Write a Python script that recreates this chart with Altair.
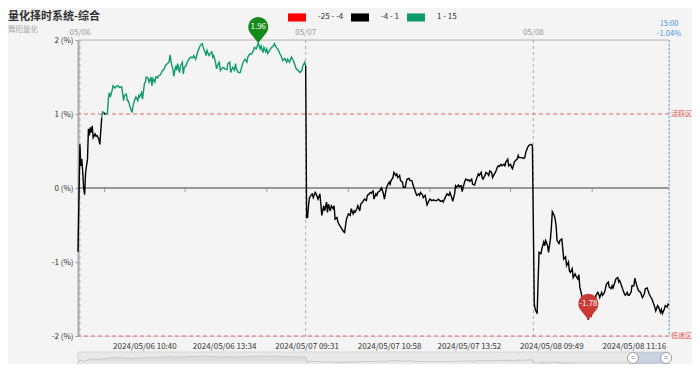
import altair as alt
import pandas as pd
import numpy as np

# ---------------- data (trading-minute index from 05/06 09:30, value in %) ----------------
minute = [
    0, 2, 3, 4, 5, 6, 7, 8, 10, 11, 12, 13, 14, 15, 16, 18, 19, 20, 22, 23, 25, 26, 27, 29, 31, 32, 33, 34, 36, 37,
    39, 40, 42, 44, 46, 47, 48, 49, 51, 52, 53, 55, 57, 58, 60, 61, 63, 64, 65, 67, 68, 70, 71, 72, 74, 75, 77, 78, 79, 81,
    82, 84, 85, 87, 89, 91, 92, 94, 96, 97, 98, 99, 100, 101, 103, 104, 105, 107, 108, 110, 111, 112, 114, 115, 117, 119, 121, 122, 124, 126,
    128, 129, 131, 132, 134, 135, 136, 138, 139, 141, 142, 143, 145, 146, 148, 149, 150, 153, 155, 157, 158, 160, 161, 163, 165, 166, 167, 169, 171, 172,
    174, 176, 178, 179, 181, 183, 185, 186, 188, 190, 192, 193, 195, 196, 198, 199, 200, 202, 204, 206, 207, 209, 211, 213, 214, 216, 218, 220, 221, 223,
    225, 227, 229, 230, 232, 234, 236, 237, 239, 240,
    241, 242, 243, 244, 246, 247, 248, 250, 251, 253, 255, 256, 257, 259, 260, 262, 263, 264, 266, 267, 269, 270, 271, 273, 274, 276, 278, 280, 281, 282,
    283, 285, 287, 288, 290, 291, 292, 294, 295, 297, 298, 300, 301, 302, 304, 305, 307, 308, 309, 311, 312, 314, 315, 316, 318, 320, 322, 323, 325, 326,
    328, 329, 330, 332, 333, 335, 336, 337, 339, 340, 342, 343, 345, 346, 347, 349, 350, 352, 353, 354, 356, 357, 359, 360, 361, 363, 364, 366, 367, 368,
    370, 371, 373, 375, 376, 378, 380, 382, 384, 385, 387, 389, 391, 392, 394, 395, 397, 398, 399, 401, 402, 404, 405, 406, 408, 409, 411, 412, 413, 415,
    416, 418, 419, 420, 422, 423, 425, 426, 427, 429, 430, 432, 433, 434, 436, 437, 439, 440, 442, 443, 444, 446, 447, 449, 450, 451, 453, 454, 456, 457,
    458, 460, 461, 463, 464, 465, 467, 468, 470, 471, 472, 474, 475, 477, 478, 479,
    481, 482, 484, 485, 486, 488, 489, 491, 492, 493, 495, 496, 498, 499, 500, 502, 503, 504, 505, 507, 508, 510, 511, 512, 514, 515, 517, 518, 519, 521,
    522, 524, 525, 527, 528, 529, 531, 532, 534, 535, 536, 538, 539, 541, 542, 543, 545, 546, 548, 549, 550, 552, 553, 555, 556, 557, 559, 560, 562, 563,
    564, 566, 567, 569, 570, 571, 573, 574, 576, 577, 579, 580, 581, 583, 584, 586, 587, 588, 590, 591, 593, 594, 595, 597, 598, 600, 601, 602, 604, 605,
    607, 608, 609, 611, 612, 614, 615, 616, 618, 619, 621, 622, 623,
]
pct = [
    -0.86, 0.59, 0.30, 0.39, 0.21, -0.01, -0.09, 0.21, 0.39, 0.80, 0.71, 0.82, 0.75, 0.84, 0.68, 0.73, 0.70, 0.71, 0.66, 0.59, 0.95, 1.03, 1.02, 0.99, 1.02, 1.20, 1.29, 1.23, 1.32, 1.38,
    1.35, 1.37, 1.38, 1.36, 1.37, 1.29, 1.18, 1.25, 1.27, 1.18, 1.18, 1.09, 1.02, 1.11, 1.20, 1.23, 1.18, 1.25, 1.23, 1.29, 1.20, 1.41, 1.43, 1.50, 1.48, 1.43, 1.50, 1.38, 1.48, 1.43,
    1.50, 1.49, 1.52, 1.53, 1.59, 1.61, 1.65, 1.68, 1.70, 1.80, 1.72, 1.65, 1.61, 1.51, 1.65, 1.59, 1.68, 1.56, 1.65, 1.70, 1.54, 1.63, 1.65, 1.70, 1.74, 1.77, 1.76, 1.79, 1.74, 1.83,
    1.90, 1.93, 1.95, 1.90, 1.83, 1.79, 1.86, 1.79, 1.81, 1.84, 1.77, 1.79, 1.70, 1.61, 1.68, 1.70, 1.59, 1.63, 1.61, 1.60, 1.68, 1.70, 1.56, 1.63, 1.59, 1.68, 1.61, 1.56, 1.56, 1.61,
    1.70, 1.74, 1.70, 1.77, 1.81, 1.81, 1.86, 1.90, 1.88, 1.96, 1.88, 1.92, 1.83, 1.90, 1.84, 1.88, 1.82, 1.86, 1.90, 1.92, 1.95, 1.90, 1.87, 1.81, 1.79, 1.72, 1.75, 1.70, 1.74, 1.70,
    1.77, 1.72, 1.65, 1.61, 1.59, 1.56, 1.59, 1.65, 1.70, 1.65,
    -0.40, -0.40, -0.24, -0.13, -0.09, -0.08, -0.13, -0.06, -0.08, -0.15, -0.08, -0.22, -0.37, -0.24, -0.31, -0.19, -0.33, -0.22, -0.31, -0.24, -0.28, -0.24, -0.42, -0.40, -0.46, -0.51, -0.55, -0.59, -0.60, -0.51,
    -0.42, -0.35, -0.37, -0.28, -0.35, -0.31, -0.33, -0.28, -0.24, -0.31, -0.22, -0.19, -0.17, -0.15, -0.17, -0.10, -0.08, -0.06, -0.07, -0.04, -0.15, -0.08, -0.10, -0.06, -0.04, 0.00, -0.08, -0.15, -0.01, 0.03,
    0.08, 0.05, 0.10, 0.14, 0.21, 0.17, 0.19, 0.14, 0.17, 0.10, 0.08, 0.01, 0.01, 0.08, 0.12, 0.13, 0.10, 0.10, 0.05, 0.01, -0.06, -0.10, -0.08, -0.10, -0.06, -0.09, -0.13, -0.10, -0.17, -0.23,
    -0.17, -0.15, -0.17, -0.16, -0.17, -0.17, -0.15, -0.18, -0.17, -0.19, -0.13, -0.08, -0.10, -0.06, -0.13, -0.18, -0.08, 0.03, 0.01, 0.04, 0.02, 0.03, -0.05, 0.01, 0.10, 0.12, 0.10, 0.11, 0.09, 0.12,
    0.05, 0.04, 0.08, 0.12, 0.19, 0.17, 0.21, 0.14, 0.12, 0.17, 0.21, 0.19, 0.17, 0.23, 0.21, 0.14, 0.19, 0.21, 0.28, 0.30, 0.29, 0.32, 0.30, 0.32, 0.30, 0.35, 0.39, 0.30, 0.32, 0.28,
    0.26, 0.35, 0.37, 0.39, 0.44, 0.41, 0.41, 0.41, 0.40, 0.41, 0.48, 0.55, 0.57, 0.59, 0.59, 0.57,
    -1.57, -1.64, -1.70, -1.27, -0.87, -0.89, -0.82, -0.73, -0.78, -0.71, -0.78, -0.87, -0.69, -0.53, -0.32, -0.37, -0.42, -0.51, -0.71, -0.75, -0.71, -0.69, -0.82, -0.96, -0.93, -1.05, -1.00, -1.12, -1.14, -1.09,
    -1.21, -1.16, -1.19, -1.23, -1.17, -1.34, -1.45, -1.54, -1.59, -1.61, -1.68, -1.78, -1.70, -1.73, -1.68, -1.61, -1.55, -1.45, -1.41, -1.44, -1.48, -1.41, -1.45, -1.41, -1.36, -1.30, -1.27, -1.34, -1.36, -1.32,
    -1.35, -1.27, -1.23, -1.21, -1.27, -1.25, -1.32, -1.36, -1.43, -1.45, -1.41, -1.45, -1.45, -1.41, -1.32, -1.32, -1.22, -1.27, -1.36, -1.39, -1.41, -1.45, -1.48, -1.43, -1.36, -1.35, -1.39, -1.43, -1.48, -1.50,
    -1.57, -1.61, -1.66, -1.59, -1.61, -1.68, -1.64, -1.70, -1.64, -1.59, -1.61, -1.57, -1.58,
]

x_label_pos = [70, 154, 241, 328, 412, 499, 586]
x_label_text = ["2024/05/06 10:40", "2024/05/06 13:34", "2024/05/07 09:31", "2024/05/07 10:58",
                "2024/05/07 13:52", "2024/05/08 09:49", "2024/05/08 11:16"]
x_tick_pos = [28, 113, 199, 285, 371, 456, 542]
day_pos = [2, 240, 480]
day_text = ["05/06", "05/07", "05/08"]
y_ticks = [-2, -1, 0, 1, 2]
band_values = [1, -2]
band_text = ["活跃区", "低迷区"]
zone_labels = ["-25 - -4", "-4 - 1", "1 - 15"]
zone_edges = [-25, -4, 1, 15]
zone_colors = ["#ff0000", "#000000", "#0c9a6b"]
last_time = "15:00"
last_pct = "-1.04%"
window_range = [583, 623]
handle_pos = [585, 620]
TITLE = "量化择时系统-综合"
SUBTITLE = "舞阳量化"

# ---------------- layout constants ----------------
W, H = 591, 296
X_MAX = max(minute)
FONT = "Noto Sans CJK SC"

df = pd.DataFrame({"t": minute, "v": pct})

# split the line into coloured runs (visual-map style); each run also takes the
# last point of the previous run so that the line stays connected
zone_idx = np.digitize(df["v"].to_numpy(), zone_edges[1:-1], right=False)
run_id = np.concatenate([[0], np.cumsum(zone_idx[1:] != zone_idx[:-1])])
rows = []
for i in range(len(df)):
    rows.append((df.t[i], df.v[i], run_id[i], zone_colors[zone_idx[i]]))
    if i > 0 and run_id[i] != run_id[i - 1]:
        rows.append((df.t[i - 1], df.v[i - 1], run_id[i], zone_colors[zone_idx[i]]))
seg = pd.DataFrame(rows, columns=["t", "v", "run", "col"]).sort_values(["run", "t"])

imax, imin = int(np.argmax(pct)), int(np.argmin(pct))
pins = pd.DataFrame({
    "t": [minute[imax], minute[imin]],
    "v": [pct[imax], pct[imin]],
    "label": [f"{pct[imax]:.2f}", f"{pct[imin]:.2f}"],
    "fill": ["#15891a", "#cc3a36"],
})
one = pd.DataFrame({"a": [0]})

xs = alt.Scale(domain=[0, X_MAX], nice=False, zero=False)
ys = alt.Scale(domain=[min(y_ticks), max(y_ticks)], nice=False, zero=False)

lbl_expr = "[" + ",".join(f"'{s}'" for s in x_label_text) + "][indexof([" + \
    ",".join(str(p) for p in x_label_pos) + "], datum.value)]"
xaxis = alt.Axis(values=x_label_pos, labelExpr=lbl_expr, domain=False, ticks=False, grid=False,
                 labelFontSize=8, labelColor="#333333", labelPadding=6, title=None,
                 labelFlush=False, labelOverlap=False)
yaxis = alt.Axis(values=y_ticks, labelExpr="datum.value + ' (%)'", domainColor="#aaaaaa", domainWidth=2,
                 tickColor="#999999", tickSize=3, labelFontSize=8, labelColor="#333333", labelPadding=2,
                 gridColor="#dddddd", gridWidth=1, title=None)

X = alt.X("t:Q", scale=xs, axis=xaxis, title=None)
Y = alt.Y("v:Q", scale=ys, axis=yaxis, title=None)

# ---------------- main layers ----------------
top_rule = alt.Chart(pd.DataFrame({"v": [max(y_ticks)]})).mark_rule(color="#cccccc", strokeWidth=1.5).encode(y=Y)
zero_rule = alt.Chart(pd.DataFrame({"v": [0]})).mark_rule(color="#7a7a7a", strokeWidth=1.5).encode(y=Y)

band_df = pd.DataFrame({"v": band_values, "label": band_text})
band_rule = alt.Chart(band_df).mark_rule(color="#e5605c", strokeDash=[4, 3], strokeWidth=1).encode(y=Y)
band_txt = alt.Chart(band_df).mark_text(align="left", baseline="middle", dx=2, fontSize=7,
                                        color="#e0504c").encode(x=alt.value(W), y=Y, text="label:N")

day_df = pd.DataFrame({"t": day_pos, "label": day_text})
day_rule = alt.Chart(day_df).mark_rule(color="#aaaaaa", strokeDash=[3, 3], strokeWidth=1).encode(x=X)
day_txt = alt.Chart(day_df).mark_text(baseline="middle", fontSize=8, color="#999999").encode(
    x=X, y=alt.value(-7), text="label:N")

end_df = pd.DataFrame({"t": [X_MAX], "l1": [last_time], "l2": [last_pct]})
end_rule = alt.Chart(end_df).mark_rule(color="#5aa6ea", strokeDash=[2, 2], strokeWidth=1).encode(x=X)
end_t1 = alt.Chart(end_df).mark_text(baseline="middle", fontSize=7.5, color="#3c95e2").encode(
    x=X, y=alt.value(-16), text="l1:N")
end_t2 = alt.Chart(end_df).mark_text(baseline="middle", fontSize=7.5, color="#3c95e2").encode(
    x=X, y=alt.value(-6), text="l2:N")

tick_df = pd.DataFrame({"t": x_tick_pos, "v": [0] * len(x_tick_pos)})
ticks = alt.Chart(tick_df).mark_tick(orient="vertical", size=4, thickness=1, color="#7a7a7a",
                                     yOffset=2).encode(x=X, y=Y)

line = alt.Chart(seg).mark_line(strokeWidth=1.4).encode(
    x=X, y=Y, detail="run:N", stroke=alt.Stroke("col:N", scale=None), order="t:Q")

PIN = "M0,0 L-0.781,-0.975 A1,1 0 1 1 0.781,-0.975 Z"
pin_mark = alt.Chart(pins).mark_point(shape=PIN, size=400, filled=True, opacity=1, strokeWidth=0).encode(
    x=X, y=Y, fill=alt.Fill("fill:N", scale=None))
pin_txt = alt.Chart(pins).mark_text(dy=-16, color="white", fontSize=8, baseline="middle").encode(
    x=X, y=Y, text="label:N")

title_txt = alt.Chart(one).mark_text(align="left", baseline="top", fontSize=11, fontWeight="bold",
                                     color="#333333").encode(x=alt.value(-70), y=alt.value(-29),
                                                             text=alt.value(TITLE))
sub_txt = alt.Chart(one).mark_text(align="left", baseline="top", fontSize=7.5, color="#aaaaaa").encode(
    x=alt.value(-70), y=alt.value(-14.5), text=alt.value(SUBTITLE))

RECT = "M-1,-0.45 L1,-0.45 L1,0.45 L-1,0.45 Z"
legend_layer = alt.Chart(pd.DataFrame({"zone": zone_labels})).mark_square(size=10, opacity=1).encode(
    x=alt.value(-3000), y=alt.value(-3000),
    color=alt.Color("zone:N", scale=alt.Scale(domain=zone_labels, range=zone_colors),
                    legend=alt.Legend(title=None, orient="none", legendX=210, legendY=-32,
                                      direction="horizontal", symbolType=RECT, symbolSize=324,
                                      symbolStrokeWidth=0, labelFontSize=8, labelColor="#333333",
                                      labelOffset=12, columnPadding=7, padding=0)))

main = alt.layer(top_rule, band_rule, day_rule, end_rule, zero_rule, ticks, line,
                 band_txt, day_txt, end_t1, end_t2, pin_mark, pin_txt, title_txt, sub_txt, legend_layer)

# ---------------- slider (data zoom) ----------------
slider_bg = alt.Chart(one).mark_rect(fill="#e9e9e9", stroke="#d6d6d6", strokeWidth=1).encode(
    x=alt.value(0), x2=alt.value(W), y=alt.value(312), y2=alt.value(340))
shadow = alt.Chart(df).mark_area(color="#d8d8d8", line={"color": "#c2c2c2", "strokeWidth": 0.8}).encode(
    x=X,
    y=alt.Y("v:Q", scale=alt.Scale(domain=[min(pct), max(pct)], range=[326, 316], nice=False, zero=False),
            axis=None),
    y2=alt.value(340))
win_df = pd.DataFrame({"t": [window_range[0]], "t2": [window_range[1]]})
window = alt.Chart(win_df).mark_rect(fill="#a8b9d4", opacity=0.45).encode(
    x=X, x2="t2:Q", y=alt.value(312), y2=alt.value(340))
hdl_df = pd.DataFrame({"t": handle_pos})
handles = alt.Chart(hdl_df).mark_point(shape="circle", size=120, filled=True, fill="white",
                                       stroke="#a0a0a0", strokeWidth=1, opacity=1).encode(x=X, y=alt.value(318))
handle_txt = alt.Chart(hdl_df).mark_text(text="=", fontSize=8, color="#777777", baseline="middle").encode(
    x=X, y=alt.value(318))

slider = alt.layer(slider_bg, shadow, window, handles, handle_txt)

chart = alt.layer(slider, main).resolve_scale(y="independent").properties(
    width=W, height=H, autosize="none", background="#f4f4f4",
    padding={"left": 70, "top": 32, "right": 23, "bottom": 28},
).configure_view(stroke=None).configure(font=FONT)

chart.save("out.html", embed_options={"renderer": "svg", "actions": False})
